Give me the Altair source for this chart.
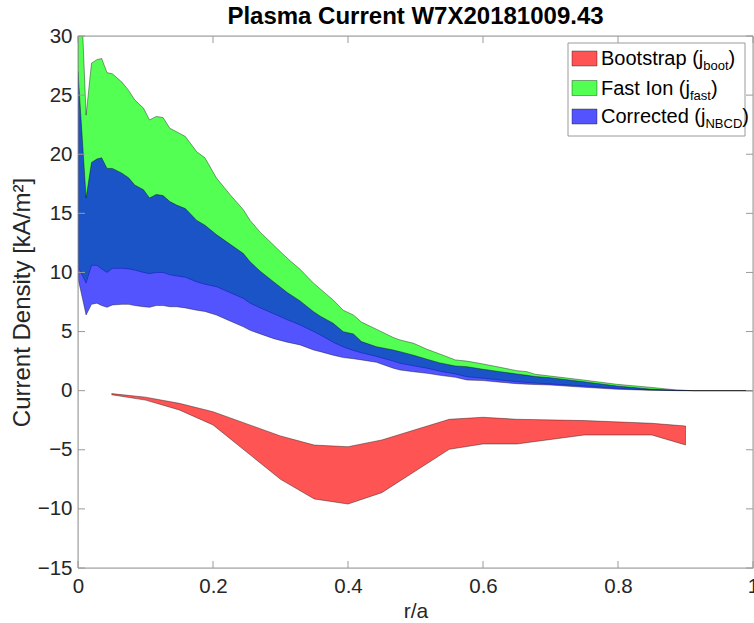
import altair as alt
import pandas as pd

# ---------------- data ----------------
r_grid = [0.000, 0.012, 0.020, 0.028, 0.035, 0.043, 0.051, 0.065, 0.075, 0.084,
          0.097, 0.106, 0.116, 0.126, 0.136, 0.146, 0.159, 0.176, 0.188, 0.205,
          0.225, 0.245, 0.255, 0.270, 0.290, 0.310, 0.329, 0.349, 0.359, 0.378,
          0.393, 0.408, 0.420, 0.442, 0.467, 0.477, 0.497, 0.517, 0.536, 0.559,
          0.576, 0.600, 0.625, 0.650, 0.665, 0.677, 0.699, 0.749, 0.798, 0.847,
          0.887, 0.912, 1.000]
fast_hi = [40.0, 23.3, 27.7, 28.0, 28.1, 26.9, 26.8, 26.1, 25.4, 24.6,
           23.9, 22.9, 23.2, 23.1, 22.2, 21.9, 21.5, 20.2, 19.7, 18.0,
           16.6, 15.3, 14.4, 13.4, 12.3, 11.2, 10.27, 9.09, 8.6, 7.67,
           6.8, 6.4, 5.8, 5.2, 4.5, 4.29, 4.01, 3.5, 3.1, 2.6,
           2.5, 2.26, 1.98, 1.69, 1.61, 1.39, 1.24, 0.9, 0.54, 0.29,
           0.06, 0.0, 0.0]
fast_lo = [10.5, 9.1, 10.6, 10.6, 10.3, 10.0, 10.35, 10.35, 10.3, 10.2,
           10.0, 9.9, 10.0, 10.0, 9.8, 9.7, 9.6, 9.2, 9.0, 8.8,
           8.3, 7.8, 7.4, 7.0, 6.5, 6.0, 5.56, 5.0, 4.71, 4.1,
           3.7, 3.4, 3.2, 2.9, 2.5, 2.32, 2.1, 1.9, 1.65, 1.41,
           1.18, 1.05, 0.9, 0.76, 0.7, 0.64, 0.57, 0.4, 0.2, 0.06,
           0.01, 0.0, 0.0]
nbcd_hi = [27.0, 16.3, 19.3, 19.6, 19.7, 18.8, 18.8, 18.4, 18.0, 17.4,
           17.0, 16.3, 16.6, 16.5, 16.0, 15.7, 15.4, 14.4, 14.0, 13.2,
           12.4, 11.6, 10.9, 10.1, 9.2, 8.3, 7.59, 6.68, 6.3, 5.7,
           4.99, 4.8, 4.15, 3.72, 3.44, 3.3, 3.0, 2.66, 2.35, 2.09,
           2.03, 1.81, 1.61, 1.41, 1.3, 1.2, 1.1, 0.76, 0.4, 0.14,
           0.03, 0.0, 0.0]
nbcd_lo = [9.5, 6.4, 7.3, 7.4, 7.2, 7.05, 7.25, 7.3, 7.3, 7.2,
           7.1, 7.05, 7.2, 7.2, 7.1, 7.1, 7.0, 6.8, 6.7, 6.4,
           5.9, 5.4, 5.1, 4.8, 4.4, 4.1, 3.87, 3.44, 3.3, 3.0,
           2.8, 2.7, 2.6, 2.4, 1.9, 1.75, 1.6, 1.47, 1.3, 1.13,
           0.9, 0.85, 0.72, 0.59, 0.55, 0.52, 0.48, 0.29, 0.12, 0.03,
           0.0, 0.0, 0.0]

r_boot = [0.05, 0.10, 0.15, 0.20, 0.30, 0.35, 0.40, 0.45, 0.55, 0.60,
          0.65, 0.75, 0.85, 0.90]
boot_hi = [-0.25, -0.55, -1.07, -1.78, -3.83, -4.6, -4.74, -4.17, -2.42, -2.25,
           -2.42, -2.53, -2.76, -2.99]
boot_lo = [-0.35, -0.8, -1.63, -2.9, -7.5, -9.16, -9.59, -8.63, -4.96, -4.51,
           -4.51, -3.75, -3.75, -4.59]

x_ticks = [0, 0.2, 0.4, 0.6, 0.8, 1.0]
y_ticks = [-15, -10, -5, 0, 5, 10, 15, 20, 25, 30]

legend_names = ["Bootstrap (j", "Fast Ion (j", "Corrected (j"]
legend_subs = ["boot", "fast", "NBCD"]
legend_colors = ["#ff0000", "#00ff00", "#0000ff"]

title_text = "Plasma Current W7X20181009.43"
x_title = "r/a"
y_title = "Current Density [kA/m²]"

# ---------------- layout ----------------
W, H = 675, 532
FONT = "Liberation Sans"
TXT = "#262626"
AXC = "#9a9a9a"
ALPHA = 0.67

df_jf = pd.DataFrame({"r": r_grid, "fast_hi": fast_hi, "fast_lo": fast_lo,
                      "nbcd_hi": nbcd_hi, "nbcd_lo": nbcd_lo})
df_boot = pd.DataFrame({"r": r_boot, "hi": boot_hi, "lo": boot_lo})
df_xt = pd.DataFrame({"v": x_ticks})
df_yt = pd.DataFrame({"v": y_ticks})
one = pd.DataFrame({"k": [0]})

xs = alt.Scale(domain=[0, 1], nice=False, zero=False)
ys = alt.Scale(domain=[-15, 30], nice=False, zero=False)
xaxis = alt.Axis(values=x_ticks, format="~g", domain=False, ticks=False, grid=False,
                 labelFont=FONT, labelFontSize=20.5, labelColor=TXT, labelPadding=8,
                 title=x_title, titleFont=FONT, titleFontSize=21, titleFontWeight="normal",
                 titleColor=TXT, titlePadding=4, labelFlush=False)
yaxis = alt.Axis(values=y_ticks, format="d", domain=False, ticks=False, grid=False,
                 labelFont=FONT, labelFontSize=20.5, labelColor=TXT, labelPadding=6,
                 title=y_title, titleFont=FONT, titleFontSize=24, titleFontWeight="normal",
                 titleColor=TXT, titlePadding=3)


def X(f):
    return alt.X(f, type="quantitative", scale=xs, axis=xaxis)


def Y(f):
    return alt.Y(f, type="quantitative", scale=ys, axis=yaxis)


edge = dict(stroke="#000000", strokeWidth=0.6, strokeOpacity=0.65, clip=True,
            orient="vertical", fillOpacity=ALPHA)

fast = alt.Chart(df_jf).mark_area(fill=legend_colors[1], **edge).encode(
    x=X("r"), y=Y("fast_lo"), y2="fast_hi")
nbcd = alt.Chart(df_jf).mark_area(fill=legend_colors[2], **edge).encode(
    x=X("r"), y=Y("nbcd_lo"), y2="nbcd_hi")
boot = alt.Chart(df_boot).mark_area(fill=legend_colors[0], **edge).encode(
    x=X("r"), y=Y("lo"), y2="hi")

box = alt.Chart(one).mark_rect(filled=False, stroke=AXC, strokeWidth=1).encode(
    x=alt.X(datum=0, scale=xs, axis=xaxis), x2=alt.X2(datum=1),
    y=alt.Y(datum=-15, scale=ys, axis=yaxis), y2=alt.Y2(datum=30))

tk = dict(color=AXC, strokeWidth=1)
xt_bot = alt.Chart(df_xt).mark_rule(**tk).encode(x=X("v"), y=alt.value(H), y2=alt.value(H - 7))
xt_top = alt.Chart(df_xt).mark_rule(**tk).encode(x=X("v"), y=alt.value(0), y2=alt.value(7))
yt_left = alt.Chart(df_yt).mark_rule(**tk).encode(y=Y("v"), x=alt.value(0), x2=alt.value(7))
yt_right = alt.Chart(df_yt).mark_rule(**tk).encode(y=Y("v"), x=alt.value(W), x2=alt.value(W - 7))

# ---------------- legend (drawn by hand for the subscripts) ----------------
AW = {" ": 278, "(": 333, ")": 333, "j": 222, "B": 667, "o": 556, "t": 278, "s": 500,
      "r": 333, "a": 556, "p": 556, "F": 611, "I": 278, "n": 556, "C": 722, "e": 556,
      "c": 500, "d": 556, "f": 278, "b": 556, "N": 722, "D": 722}


def tw(s, size):
    return sum(AW.get(ch, 556) for ch in s) * size / 1000.0


LX0, LX1, LY0, LY1 = 490, 667, 7, 100
legend_layers = [alt.Chart(one).mark_rect(fill="white", stroke=AXC, strokeWidth=1).encode(
    x=alt.value(LX0), x2=alt.value(LX1), y=alt.value(LY0), y2=alt.value(LY1))]
row_base = [29, 58.5, 87]
MAIN_FS, SUB_FS = 20, 13
for name, sub, col, yb in zip(legend_names, legend_subs, legend_colors, row_base):
    legend_layers.append(alt.Chart(one).mark_rect(
        fill=col, fillOpacity=ALPHA, stroke="#000000", strokeWidth=0.6, strokeOpacity=0.6).encode(
        x=alt.value(494), x2=alt.value(519), y=alt.value(yb - 14), y2=alt.value(yb + 1)))
    tx = 523
    legend_layers.append(alt.Chart(one).mark_text(
        align="left", baseline="alphabetic", font=FONT, fontSize=MAIN_FS, color="#000000").encode(
        x=alt.value(tx), y=alt.value(yb), text=alt.value(name)))
    sx = tx + tw(name, MAIN_FS)
    legend_layers.append(alt.Chart(one).mark_text(
        align="left", baseline="alphabetic", font=FONT, fontSize=SUB_FS, color="#000000").encode(
        x=alt.value(sx), y=alt.value(yb + 5), text=alt.value(sub)))
    px = sx + tw(sub, SUB_FS)
    legend_layers.append(alt.Chart(one).mark_text(
        align="left", baseline="alphabetic", font=FONT, fontSize=MAIN_FS, color="#000000").encode(
        x=alt.value(px), y=alt.value(yb), text=alt.value(")")))

chart = alt.layer(fast, nbcd, boot, box, xt_bot, xt_top, yt_left, yt_right, *legend_layers).properties(
    width=W, height=H,
    title=alt.TitleParams(title_text, font=FONT, fontSize=24, fontWeight="bold", color="#000000",
                          anchor="middle", offset=10, dy=13),
    padding={"left": 78, "top": 36, "right": 1, "bottom": 55},
    autosize=alt.AutoSizeParams(type="none"),
).configure_view(stroke=None).configure(background="white")

chart.save("out.html", embed_options={"renderer": "svg", "actions": False})
